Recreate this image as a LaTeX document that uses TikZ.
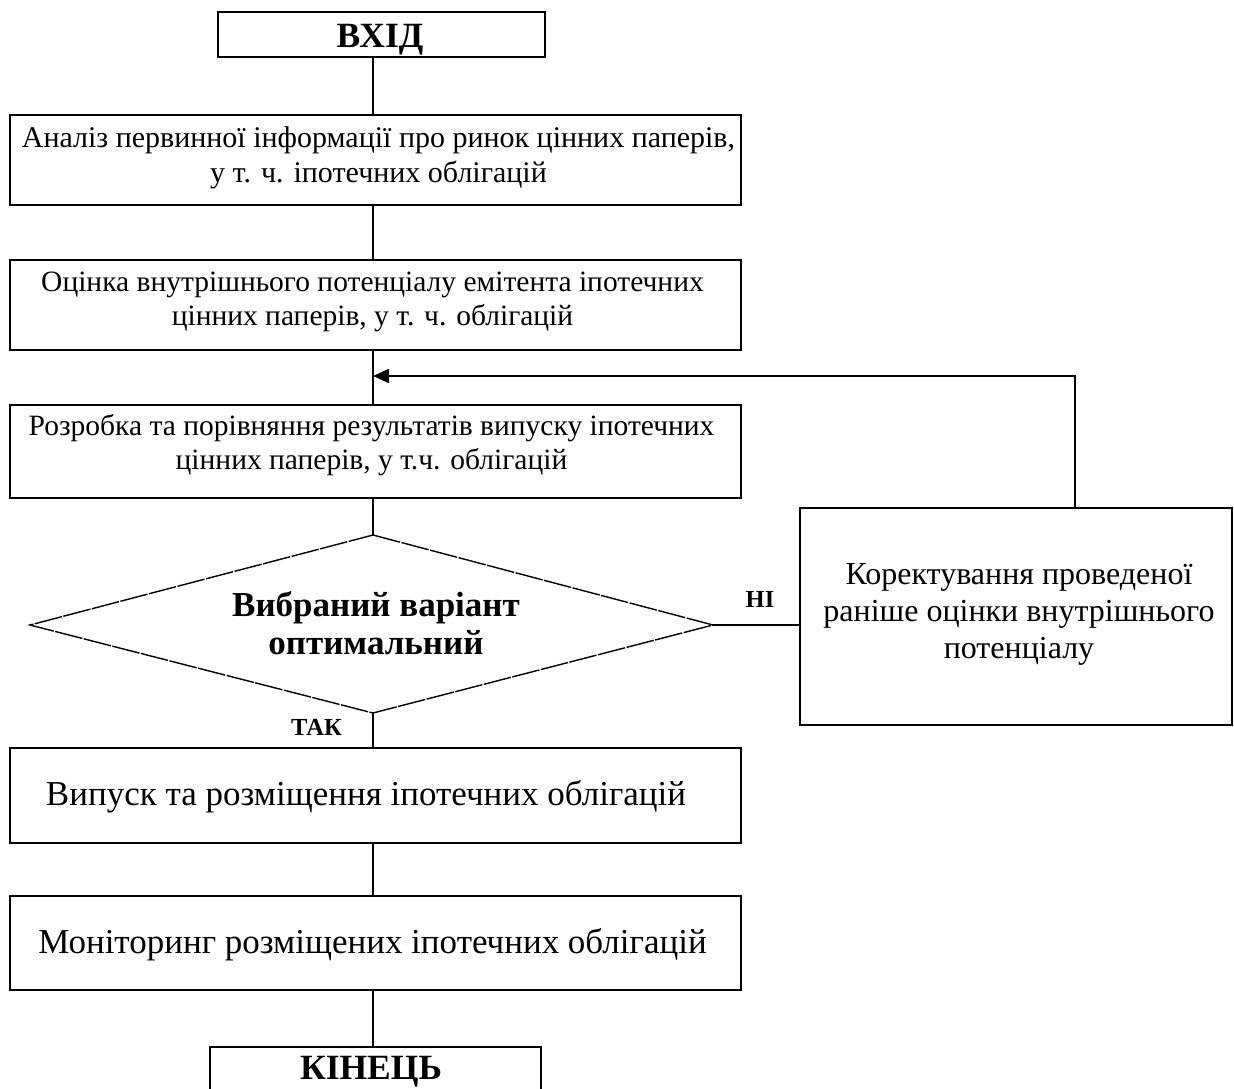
\documentclass[tikz,border=0pt]{standalone}
\usepackage{fontspec}
\setmainfont{Liberation Serif}
\usetikzlibrary{arrows.meta,shapes.geometric}
\begin{document}
\begin{tikzpicture}[x=1pt,y=-1pt,
  box/.style={draw,line width=1.3pt,inner sep=0pt},
  txt/.style={align=center,inner sep=0pt,font=\fontsize{29.5}{34.5}\selectfont},
  bigtxt/.style={align=center,inner sep=0pt,anchor=base,font=\fontsize{35}{40}\selectfont},
  head/.style={align=center,inner sep=0pt,anchor=base,font=\fontsize{35.5}{40}\selectfont\bfseries},
  lbl/.style={inner sep=0pt,anchor=base,font=\fontsize{24.5}{28}\selectfont\bfseries},
  link/.style={line width=2pt}]
\useasboundingbox (0,0) rectangle (1234,1088);

% spine of the main flow
\coordinate (sp) at (373,0);

% terminal and process boxes
\node[box,minimum width=327,minimum height=45] (start) at (381.5,34.5) {};
\node[head] (startt) at (380,47) {ВХІД};

\node[box,minimum width=731,minimum height=90] (b2) at (375.5,160) {};
\node[txt,font=\fontsize{30}{34.5}\selectfont] (b2t) at (378.5,158) {Аналіз первинної інформації про ринок цінних паперів,\\у т. ч. іпотечних облігацій};

\node[box,minimum width=731,minimum height=90] (b3) at (375.5,305) {};
\node[txt] (b3t) at (372.5,302) {Оцінка внутрішнього потенціалу емітента іпотечних\\цінних паперів, у т. ч. облігацій};

\node[box,minimum width=731,minimum height=93] (b4) at (375.5,451.5) {};
\node[txt] (b4t) at (371.5,445) {Розробка та порівняння результатів випуску іпотечних\\цінних паперів, у т.ч. облігацій};

% decision
\coordinate (dt) at (373,535);
\coordinate (dl) at (30,625);
\coordinate (dr) at (713,625);
\coordinate (db) at (373,713);
\draw[line width=1.4pt,dash pattern=on 28pt off 1.5pt] (dt) -- (dr) -- (db) -- (dl) -- cycle;
\node[align=center,inner sep=0pt,anchor=base,font=\fontsize{35}{38}\selectfont\bfseries] (dec) at (376,654) {Вибраний варіант\\оптимальний};

% correction box
\node[box,minimum width=432,minimum height=217] (corr) at (1016,616.5) {};
\node[align=center,inner sep=0pt,anchor=base,font=\fontsize{32}{37}\selectfont] (corrt) at (1019,658) {Коректування проведеної\\раніше оцінки внутрішнього\\потенціалу};

\node[box,minimum width=731,minimum height=95] (b5) at (375.5,795.5) {};
\node[bigtxt] (b5t) at (366,805) {Випуск та розміщення іпотечних облігацій};

\node[box,minimum width=731,minimum height=94] (b6) at (375.5,943) {};
\node[bigtxt] (b6t) at (372.5,953) {Моніторинг розміщених іпотечних облігацій};

\node[box,minimum width=331,minimum height=60] (fin) at (375.5,1077) {};
\node[head] (fint) at (371,1079) {КІНЕЦЬ};

% connectors
\draw[link] (start.south -| sp) -- (b2.north -| sp);
\draw[link] (b2.south -| sp) -- (b3.north -| sp);
\draw[link] (b3.south -| sp) -- (b4.north -| sp);
\draw[link] (b4.south -| sp) -- (dt);
\draw[link] (db) -- (b5.north -| sp);
\draw[link] (b5.south -| sp) -- (b6.north -| sp);
\draw[link] (b6.south -| sp) -- (fin.north -| sp);
\draw[link] (dr) -- (corr.west |- dr);

% feedback loop
\coordinate (fb) at (1075,376);
\draw[link,-{Triangle[length=16pt,width=14pt]}] (corr.north -| fb) -- (fb) -- (fb -| sp);

% branch labels
\node[lbl] (no) at (760,607) {НІ};
\node[lbl] (yes) at (316.5,735) {ТАК};
\end{tikzpicture}
\end{document}
